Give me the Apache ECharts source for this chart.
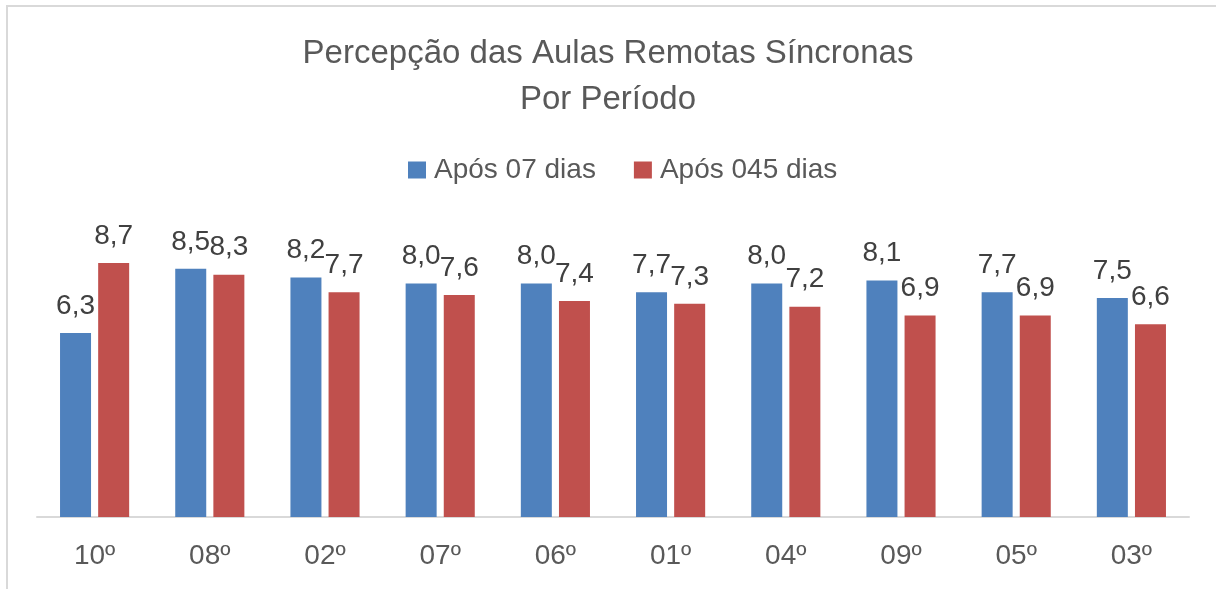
<html>
<head>
<meta charset="utf-8">
<title>Percepção das Aulas Remotas Síncronas</title>
<script src="https://cdn.jsdelivr.net/npm/echarts@6/dist/echarts.min.js"></script>
<style>
  body { margin: 0; background: #fff; }
  #main { width: 1216px; height: 589px; }
</style>
</head>
<body>
<div id="main"></div>
<script type="text/javascript">
    // dados do gráfico
    var periodos = ['10º', '08º', '02º', '07º', '06º', '01º', '04º', '09º', '05º', '03º'];
    var apos07 = [6.3, 8.5, 8.2, 8.0, 8.0, 7.7, 8.0, 8.1, 7.7, 7.5];
    var apos045 = [8.7, 8.3, 7.7, 7.6, 7.4, 7.3, 7.2, 6.9, 6.9, 6.6];
    var nomes = ['Após 07 dias', 'Após 045 dias'];

    var fonte = 'Liberation Sans';
    var myChart = echarts.init(document.getElementById('main'));

    function rotulo(p) {
        return p.value.toFixed(1).replace('.', ',');
    }

    var option = {
        backgroundColor: '#fff',
        animation: false,
        graphic: [{
            type: 'rect',
            shape: { x: 7, y: 6, width: 1400, height: 800 },
            style: { fill: 'none', stroke: '#d9d9d9', lineWidth: 2 }
        }],
        title: {
            text: 'Percepção das Aulas Remotas Síncronas\nPor Período',
            left: 'center',
            top: 26,
            textStyle: {
                fontFamily: fonte,
                fontSize: 33,
                fontWeight: 'normal',
                color: '#595959',
                lineHeight: 46
            }
        },
        legend: {
            data: nomes,
            top: 151,
            left: 403,
            itemWidth: 18,
            itemHeight: 17,
            itemGap: 38,
            icon: 'rect',
            textStyle: { fontFamily: fonte, fontSize: 28, color: '#595959', padding: [0, 0, 0, 3] }
        },
        grid: { left: 37, right: 27, top: 225, bottom: 72 },
        xAxis: {
            type: 'category',
            data: periodos,
            axisLine: { lineStyle: { color: '#d9d9d9', width: 2 } },
            axisTick: { show: false },
            axisLabel: {
                fontFamily: fonte,
                fontSize: 28,
                color: '#595959',
                margin: 25
            }
        },
        yAxis: {
            type: 'value',
            min: 0,
            max: 10,
            show: false,
            splitLine: { show: false }
        },
        series: [{
            name: nomes[0],
            type: 'bar',
            data: apos07,
            barWidth: 31,
            barGap: '23%',
            itemStyle: { color: '#4f81bd' },
            label: {
                show: true,
                position: 'top',
                distance: 13,
                fontFamily: fonte,
                fontSize: 28,
                color: '#404040',
                formatter: rotulo
            }
        }, {
            name: nomes[1],
            type: 'bar',
            data: apos045,
            barWidth: 31,
            itemStyle: { color: '#c0504d' },
            label: {
                show: true,
                position: 'top',
                distance: 13,
                fontFamily: fonte,
                fontSize: 28,
                color: '#404040',
                formatter: rotulo
            }
        }]
    };

    myChart.setOption(option);
</script>
</body>
</html>
